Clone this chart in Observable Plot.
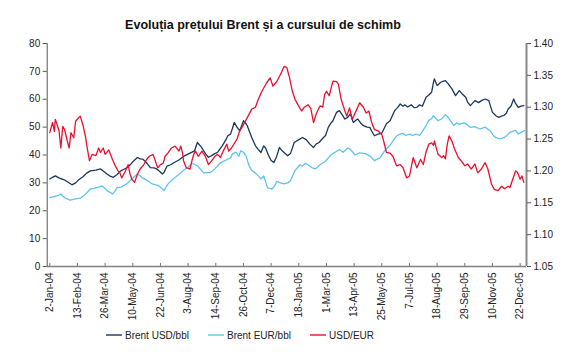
<!DOCTYPE html>
<html><head><meta charset="utf-8">
<script src="https://cdn.jsdelivr.net/npm/d3@7"></script>
<script src="https://cdn.jsdelivr.net/npm/@observablehq/plot@0.6"></script>
<style>body{margin:0;background:#fff}</style>
</head><body><div id="chart"></div>
<script>
const title = "Evoluția prețului Brent și a cursului de schimb";
const tickLabels = ["2-Jan-04","13-Feb-04","26-Mar-04","10-May-04","22-Jun-04","3-Aug-04","14-Sep-04","26-Oct-04","7-Dec-04","18-Jan-05","1-Mar-05","13-Apr-05","25-May-05","7-Jul-05","18-Aug-05","29-Sep-05","10-Nov-05","22-Dec-05"];
const tickStep = 30; // trading days between labelled ticks
const leftTicks = [0,10,20,30,40,50,60,70,80];
const rightTicks = [1.05,1.10,1.15,1.20,1.25,1.30,1.35,1.40];
const seriesNames = ["Brent USD/bbl","Brent EUR/bbl","USD/EUR"];

// [trading-day index, value]
const brentUsd = [[0,31.4],[3,32.0],[6,32.5],[10,31.8],[15,31.2],[20,30.2],[24,29.3],[28,30.0],[31,31.0],[36,32.2],[40,33.5],[44,34.3],[50,34.6],[55,35.0],[59,34.0],[62,33.2],[66,32.3],[69,32.0],[73,33.0],[77,34.3],[80,34.8],[84,35.5],[88,36.8],[92,38.2],[95,39.1],[98,38.6],[101,38.5],[105,37.2],[109,35.5],[113,35.4],[116,35.0],[119,34.2],[122,33.2],[124,33.8],[127,36.0],[131,36.5],[135,37.3],[140,38.2],[146,39.7],[151,40.5],[157,41.5],[160,44.5],[164,43.0],[169,40.4],[172,39.2],[175,39.7],[179,40.5],[182,41.0],[187,43.3],[191,45.5],[193,46.9],[196,47.5],[198,49.5],[200,51.7],[203,50.0],[206,48.7],[208,50.5],[210,52.3],[212,51.5],[214,50.6],[217,48.0],[219,46.3],[223,43.3],[226,42.0],[229,40.9],[232,43.3],[234,42.5],[237,40.0],[240,38.0],[243,37.3],[246,39.5],[249,42.7],[252,41.5],[254,40.9],[258,39.7],[261,40.5],[265,44.5],[270,45.5],[274,46.3],[278,45.5],[282,43.9],[286,42.7],[289,44.0],[292,44.5],[296,46.0],[299,47.0],[302,49.9],[305,51.5],[307,52.3],[311,55.3],[314,55.9],[317,54.5],[320,52.9],[323,53.5],[326,54.7],[329,51.7],[332,52.5],[334,52.9],[337,51.5],[340,50.5],[344,50.0],[347,49.9],[350,48.0],[352,46.9],[356,47.5],[360,47.8],[365,51.2],[369,52.3],[372,54.5],[374,55.9],[377,57.0],[380,58.3],[383,57.5],[385,58.0],[388,57.2],[392,58.0],[395,57.0],[398,57.1],[401,58.0],[404,57.5],[408,60.7],[411,61.5],[414,62.5],[416,66.0],[417,67.3],[420,64.9],[424,66.1],[427,66.5],[429,66.7],[432,65.5],[436,63.7],[440,61.3],[444,63.1],[447,62.0],[451,60.7],[453,59.0],[456,57.7],[459,58.8],[461,59.5],[465,58.8],[468,59.5],[472,60.1],[476,59.5],[480,55.3],[484,54.0],[487,53.5],[490,54.0],[492,54.1],[495,55.0],[497,56.5],[500,57.5],[503,60.1],[505,58.5],[508,57.1],[511,57.5],[514,57.7]];

const brentEur = [[0,24.7],[3,25.0],[6,25.2],[9,25.5],[12,26.0],[15,25.0],[17,24.5],[22,23.8],[27,24.2],[33,24.5],[36,25.2],[39,26.0],[44,27.8],[48,28.0],[51,28.3],[57,28.9],[60,28.0],[62,27.2],[66,26.5],[68,26.0],[71,27.2],[73,28.3],[77,28.5],[80,29.0],[84,29.8],[87,30.8],[91,32.0],[95,33.2],[98,32.5],[100,31.9],[105,31.0],[108,30.3],[111,29.6],[115,29.3],[118,29.0],[122,27.8],[124,27.2],[127,29.0],[129,29.9],[134,31.5],[140,33.0],[145,34.5],[150,35.6],[154,37.0],[158,36.5],[160,36.2],[163,35.0],[167,33.5],[169,33.7],[174,33.7],[179,35.0],[185,37.2],[190,38.0],[196,39.0],[198,40.4],[202,41.0],[205,39.5],[207,41.5],[210,41.0],[213,39.5],[216,36.2],[219,34.5],[223,33.5],[226,32.5],[229,31.4],[232,32.5],[236,28.3],[238,28.0],[241,27.8],[244,29.0],[246,30.5],[250,30.0],[254,29.6],[258,30.0],[261,30.8],[264,33.0],[266,34.5],[269,35.6],[271,36.5],[274,36.0],[277,37.0],[280,36.5],[284,35.5],[288,35.0],[293,36.5],[298,37.5],[301,38.5],[304,39.8],[309,40.9],[314,42.0],[318,41.0],[323,42.5],[326,42.0],[331,40.0],[336,40.8],[342,40.5],[347,39.7],[352,38.0],[355,38.5],[358,39.0],[363,41.5],[366,42.5],[369,43.5],[373,45.5],[376,46.8],[380,47.5],[383,47.8],[386,47.0],[390,47.5],[393,47.0],[397,47.5],[401,47.0],[404,48.5],[408,50.5],[411,52.5],[414,53.0],[416,54.1],[419,53.0],[421,52.3],[425,53.0],[429,54.5],[432,53.5],[434,52.5],[438,50.6],[441,51.5],[444,51.0],[449,51.5],[452,51.0],[456,49.9],[461,50.2],[465,49.5],[467,49.4],[472,50.0],[476,49.0],[478,48.5],[481,47.0],[483,46.4],[486,46.0],[489,45.8],[494,46.5],[499,48.1],[502,48.5],[505,48.8],[508,47.6],[512,48.3],[515,48.8]];

const usdEur = [[0,1.260],[3,1.276],[5,1.262],[6,1.281],[10,1.263],[12,1.236],[14,1.270],[16,1.265],[19,1.247],[21,1.236],[23,1.260],[26,1.252],[28,1.278],[31,1.283],[33,1.286],[36,1.272],[39,1.252],[40,1.241],[43,1.216],[46,1.226],[50,1.224],[53,1.236],[55,1.229],[58,1.236],[60,1.226],[64,1.233],[68,1.218],[71,1.208],[74,1.200],[76,1.197],[78,1.189],[82,1.200],[85,1.210],[87,1.195],[89,1.187],[92,1.182],[95,1.195],[98,1.203],[102,1.210],[105,1.218],[108,1.223],[112,1.226],[117,1.205],[120,1.210],[123,1.212],[125,1.223],[128,1.228],[132,1.236],[136,1.239],[140,1.231],[142,1.239],[144,1.228],[145,1.216],[148,1.205],[152,1.203],[154,1.215],[156,1.226],[158,1.231],[161,1.223],[165,1.231],[169,1.222],[172,1.210],[175,1.215],[179,1.223],[182,1.226],[185,1.221],[188,1.231],[192,1.242],[194,1.231],[197,1.236],[203,1.250],[206,1.263],[209,1.270],[212,1.278],[215,1.286],[219,1.297],[223,1.300],[226,1.312],[230,1.325],[235,1.338],[239,1.346],[242,1.333],[246,1.340],[250,1.351],[254,1.364],[257,1.362],[260,1.346],[263,1.325],[266,1.312],[269,1.304],[273,1.294],[276,1.300],[280,1.304],[283,1.298],[286,1.276],[289,1.290],[293,1.302],[296,1.300],[298,1.320],[300,1.325],[303,1.318],[307,1.341],[311,1.340],[313,1.336],[316,1.312],[320,1.294],[322,1.286],[325,1.299],[328,1.281],[333,1.297],[336,1.307],[340,1.300],[343,1.291],[346,1.294],[349,1.276],[352,1.265],[356,1.263],[360,1.257],[362,1.247],[365,1.229],[369,1.228],[372,1.223],[376,1.208],[380,1.210],[383,1.205],[387,1.189],[390,1.192],[394,1.221],[398,1.205],[402,1.218],[405,1.210],[408,1.230],[411,1.242],[414,1.244],[416,1.240],[417,1.247],[421,1.226],[425,1.221],[427,1.224],[429,1.219],[431,1.242],[433,1.255],[436,1.247],[439,1.234],[443,1.221],[446,1.216],[450,1.208],[453,1.211],[457,1.203],[461,1.211],[464,1.197],[468,1.203],[472,1.213],[475,1.203],[479,1.179],[482,1.171],[486,1.169],[490,1.176],[493,1.172],[497,1.176],[499,1.174],[502,1.187],[505,1.200],[507,1.198],[510,1.187],[512,1.192],[514,1.182]];

const colors = ["#17375E","#5DC3F0","#E8102E"];
const xDomain = [-2.8, 516.9];

// map right-axis values onto the left scale
const rMin = rightTicks[0], rMax = rightTicks[rightTicks.length-1];
const lMax = leftTicks[leftTicks.length-1];
const toLeft = v => (v - rMin) / (rMax - rMin) * lMax;
const fromLeft = v => rMin + v / lMax * (rMax - rMin);

const d1 = brentUsd.map(([i,v]) => ({i, v}));
const d2 = brentEur.map(([i,v]) => ({i, v}));
const d3r = usdEur.map(([i,v]) => ({i, v: toLeft(v)}));
const xTicks = tickLabels.map((_,k) => k*tickStep);

const font = "'Liberation Sans', Arial, Helvetica, sans-serif";

const chart = Plot.plot({
  width: 576, height: 361,
  marginLeft: 46.7, marginRight: 50, marginTop: 43, marginBottom: 95,
  x: {domain: xDomain},
  y: {domain: [0, lMax]},
  style: {fontFamily: font, fontSize: "10px", color: "#222", background: "#fff"},
  marks: [
    Plot.line(d2, {x: "i", y: "v", stroke: colors[1], strokeWidth: 1.3}),
    Plot.line(d1, {x: "i", y: "v", stroke: colors[0], strokeWidth: 1.3}),
    Plot.line(d3r, {x: "i", y: "v", stroke: colors[2], strokeWidth: 1.3}),
    Plot.ruleY([0], {stroke: "#808080", strokeWidth: 1.5}),
    Plot.ruleX([xDomain[0]], {stroke: "#555", strokeWidth: 1}),
    Plot.ruleX([xDomain[1]], {stroke: "#888", strokeWidth: 2}),
    Plot.ruleX(xTicks, {y1: 0, y2: 1.1, stroke: "#777"}),
    Plot.axisX({ticks: xTicks, tickSize: 0, tickPadding: 6, tickRotate: -90,
      tickFormat: d => tickLabels[Math.round(d / tickStep)], label: null, fill: "#222"}),
    Plot.axisY({ticks: leftTicks, tickSize: 4, tickPadding: 3, label: null, stroke: "#555", fill: "#222"}),
    Plot.axisY({anchor: "right", ticks: rightTicks.map(toLeft), tickSize: 4, tickPadding: 3,
      tickFormat: d => (Math.round(fromLeft(d) * 100) / 100).toFixed(2), label: null, stroke: "#555", fill: "#222"})
  ]
});
document.getElementById("chart").appendChild(chart);

const svg = d3.select(chart);
svg.append("text").attr("x", 263).attr("y", 29).attr("text-anchor", "middle")
  .attr("font-family", font).attr("font-size", 12.5).attr("font-weight", "bold").attr("fill", "#111")
  .text(title);

const legendX = [106, 208, 310];
const lg = svg.append("g").attr("font-family", font).attr("font-size", 10).attr("fill", "#222")
  .attr("text-anchor", "start");
seriesNames.forEach((name, k) => {
  lg.append("line").attr("x1", legendX[k]).attr("x2", legendX[k] + 16).attr("y1", 335).attr("y2", 335)
    .attr("stroke", colors[k]).attr("stroke-width", 1.4);
  lg.append("text").attr("x", legendX[k] + 19).attr("y", 339).attr("text-anchor", "start").text(name);
});
</script></body></html>
